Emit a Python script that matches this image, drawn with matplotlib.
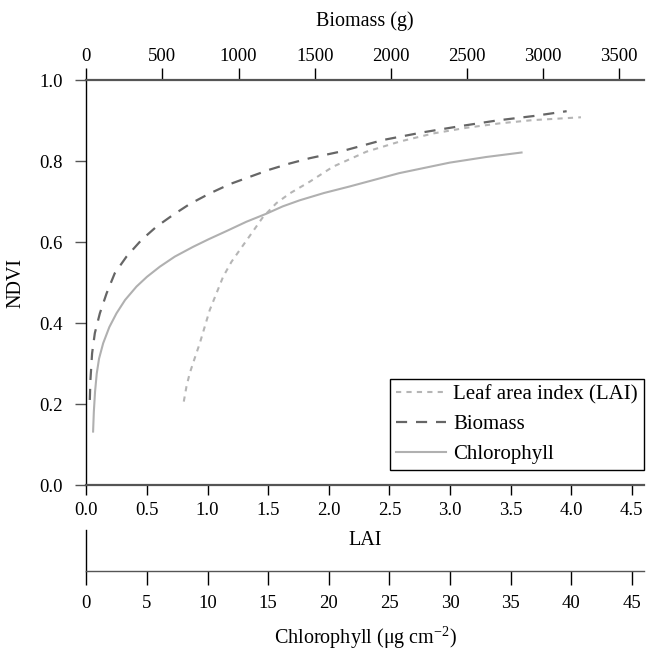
import matplotlib
matplotlib.use("Agg")
import matplotlib.pyplot as plt

plt.rcParams["font.family"] = ["Liberation Serif", "DejaVu Serif"]
plt.rcParams["mathtext.fontset"] = "custom"
plt.rcParams["mathtext.rm"] = "Liberation Serif"
plt.rcParams["font.size"] = 13.5

# NDVI vs LAI (dotted curve)
lai_x = [0.804, 0.826, 0.853, 0.894, 0.936, 0.977, 1.018, 1.073, 1.128, 1.197, 1.265,
         1.362, 1.458, 1.568, 1.678, 1.843, 2.035, 2.31, 2.585, 2.86, 3.134, 3.41, 3.683, 4.08]
lai_ndvi = [0.206, 0.243, 0.276, 0.313, 0.350, 0.391, 0.432, 0.473, 0.514, 0.551, 0.580,
            0.621, 0.662, 0.696, 0.720, 0.749, 0.786, 0.823, 0.848, 0.868, 0.882, 0.893, 0.901, 0.908]

# NDVI vs biomass (g), dashed curve
bio_x = [23, 27, 38, 56, 89, 133, 187, 264, 362, 461, 570, 680, 811, 943, 1074, 1206,
         1337, 1468, 1666, 1950, 2213, 2454, 2695, 2936, 3155]
bio_ndvi = [0.210, 0.259, 0.325, 0.375, 0.424, 0.473, 0.523, 0.564, 0.605, 0.638, 0.667,
            0.694, 0.720, 0.743, 0.761, 0.779, 0.794, 0.807, 0.823, 0.852, 0.871, 0.886,
            0.900, 0.911, 0.923]

# NDVI vs chlorophyll (ug cm-2), solid curve
chl_x = [0.56, 0.62, 0.72, 0.86, 1.05, 1.39, 1.9, 2.49, 3.2, 4.14, 5.0, 6.06, 7.3, 8.8, 10.1,
         11.56, 13.2, 14.86, 16.2, 17.6, 19.6, 21.7, 25.8, 29.97, 33.0, 35.9]
chl_ndvi = [0.132, 0.180, 0.230, 0.275, 0.312, 0.350, 0.390, 0.424, 0.457, 0.490, 0.514,
            0.539, 0.564, 0.588, 0.607, 0.627, 0.650, 0.670, 0.688, 0.703, 0.721, 0.737,
            0.770, 0.796, 0.810, 0.821]

lai_ticks = [0.0, 0.5, 1.0, 1.5, 2.0, 2.5, 3.0, 3.5, 4.0, 4.5]
bio_ticks = [0, 500, 1000, 1500, 2000, 2500, 3000, 3500]
chl_ticks = [0, 5, 10, 15, 20, 25, 30, 35, 40, 45]
ndvi_ticks = [0.0, 0.2, 0.4, 0.6, 0.8, 1.0]

axis_grey = "#555555"

fig = plt.figure(figsize=(6.46, 6.5), dpi=100)
ax = fig.add_axes([0.1336, 0.2538, 0.8633, 0.6231])
ax.set_xlim(0, 4.6)
ax.set_ylim(0, 1.0)
ax.set_xticks(lai_ticks)
ax.set_xticklabels([f"{t:.1f}" for t in lai_ticks])
ax.set_yticks(ndvi_ticks)
ax.set_yticklabels([f"{t:.1f}" for t in ndvi_ticks])
ax.set_xlabel("LAI", labelpad=9, fontsize=14.5)
ax.set_ylabel("NDVI", labelpad=10, fontsize=14.5)
ax.spines["right"].set_visible(False)
ax.spines["left"].set_color("black")
ax.spines["left"].set_linewidth(1.0)
ax.spines["bottom"].set_color(axis_grey)
ax.spines["bottom"].set_linewidth(1.6)
ax.spines["top"].set_visible(False)
ax.tick_params(axis="x", direction="out", length=7, width=1.0, color="black", pad=5)
ax.tick_params(axis="y", direction="out", length=8, width=1.0, color=axis_grey, pad=9)

# biomass on top axis
axb = ax.twiny()
axb.set_xlim(0, 3663)
axb.set_xticks(bio_ticks)
axb.set_xlabel("Biomass (g)", labelpad=16, fontsize=14.5)
for s in ["left", "right", "bottom"]:
    axb.spines[s].set_visible(False)
axb.spines["top"].set_color(axis_grey)
axb.spines["top"].set_linewidth(1.6)
axb.tick_params(axis="x", direction="out", length=8.5, width=1.0, color="black", pad=2.5)

# hidden axis carrying the chlorophyll scale
axc = ax.twiny()
axc.set_xlim(0, 46)
axc.set_xticks([])
for s in axc.spines.values():
    s.set_visible(False)

l1, = ax.plot(lai_x, lai_ndvi, color="#b5b5b5", lw=1.5, dashes=(2.5, 2.5),
              label="Leaf area index (LAI)")
l2, = axb.plot(bio_x, bio_ndvi, color="#666666", lw=1.6, dashes=(5, 4), label="Biomass")
l3, = axc.plot(chl_x, chl_ndvi, color="#b0b0b0", lw=1.5, label="Chlorophyll")

leg = axc.legend(handles=[l1, l2, l3], loc="lower right", bbox_to_anchor=(1.0, 0.037),
                 frameon=True, fancybox=False, edgecolor="black", framealpha=1,
                 borderaxespad=0, handlelength=2.4, handletextpad=0.35, fontsize=15,
                 labelspacing=0.48, borderpad=0.3)
leg.get_frame().set_linewidth(1.0)

# separate chlorophyll axis below the plot
axl = fig.add_axes([0.1336, 0.1215, 0.8633, 0.063])
axl.set_xlim(0, 46)
axl.set_ylim(0, 1)
axl.set_xticks(chl_ticks)
axl.set_yticks([])
axl.spines["right"].set_visible(False)
axl.spines["top"].set_visible(False)
axl.spines["left"].set_color("black")
axl.spines["left"].set_linewidth(1.0)
axl.spines["bottom"].set_color(axis_grey)
axl.spines["bottom"].set_linewidth(1.0)
axl.tick_params(axis="x", direction="out", length=10, width=1.0, color="black", pad=7)
axl.set_xlabel(r"Chlorophyll (μg cm$^{-2}$)", labelpad=9, fontsize=14.5)
axl.patch.set_alpha(0)

fig.savefig("out.png", dpi=100)
